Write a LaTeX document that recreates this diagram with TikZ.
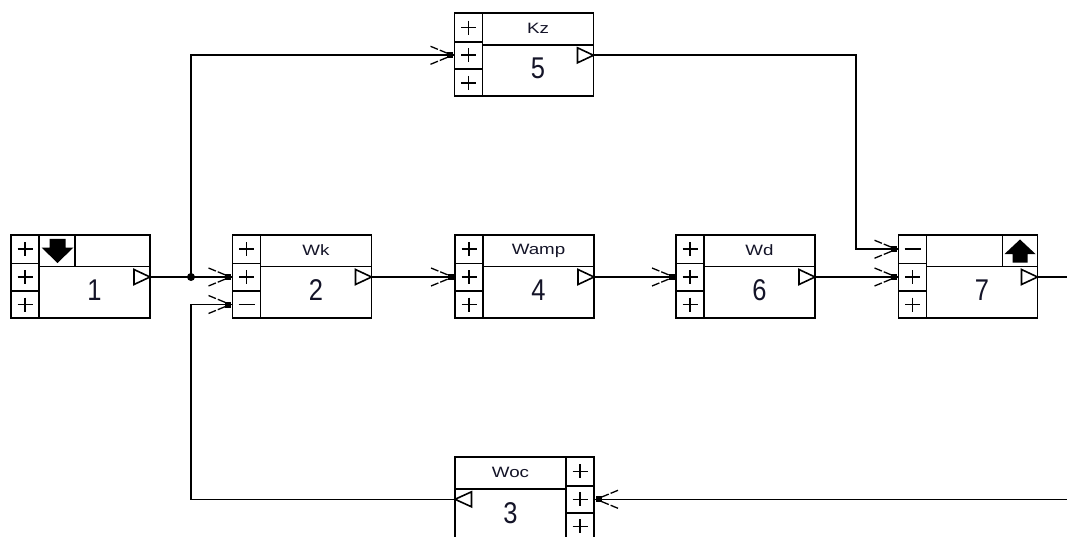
\documentclass[tikz,border=0pt]{standalone}
\usepackage{fontspec}
\setmainfont{Liberation Sans}
\usetikzlibrary{calc}
\definecolor{txt}{RGB}{20,20,40}
\tikzset{
  ln/.style={line width=1.6pt, draw=black},
  blockbox/.style={draw=black, line width=1.7pt, fill=white, minimum width=139pt,
    minimum height=83pt, inner sep=0pt, outer sep=0pt, anchor=north west},
  numtext/.style={font=\fontsize{30}{30}\selectfont, text=txt, inner sep=0pt},
  lbltext/.style={font=\fontsize{15}{15}\selectfont, text=txt, inner sep=0pt},
  conn/.style={line width=1.6pt, draw=black},
  barb/.style={line width=1.3pt, draw=black, dash pattern=on 8pt off 2pt},
}
\newcommand\pls[2]{\draw[ln] (#1-7.5,#2)--(#1+7.5,#2) (#1,#2-7)--(#1,#2+7);}
\newcommand\mns[2]{\draw[ln] (#1-8,#2)--(#1+8,#2);}
% id, x, y, label, number, sign1, sign2, sign3
\newcommand\lblock[8]{%
  \begin{scope}[shift={(#2,#3)}]
    \node[blockbox] (#1) at (0,0) {};
    \draw[ln] (28,0)--(28,83) (0,28.5)--(28,28.5) (0,56)--(28,56) (28,31.5)--(139,31.5);
    #6{14}{14.25}#7{14}{42}#8{14}{69.5}
    \draw[ln, fill=white] (139,42)--(123,34.5)--(123,49.5)--cycle;
    \node[lbltext] (#1-l) at (83.5,15.5) {\scalebox{1.25}[1]{#4}};
    \node[numtext] (#1-n) at (83.5,55.5) {\scalebox{0.85}[1]{#5}};
    \coordinate (#1-i1) at (0,14.25);
    \coordinate (#1-i2) at (0,42);
    \coordinate (#1-i3) at (0,69.5);
    \coordinate (#1-o) at (139,42);
  \end{scope}}
\newcommand\inarr[1]{%
  \begin{scope}[shift={(#1)}]
    \fill (-7.5,-3) rectangle (-1.5,3);
    \draw[barb] (-24,-9)--(-7,-2) (-24,9)--(-7,2);
  \end{scope}}
\newcommand\inarrR[1]{%
  \begin{scope}[shift={(#1)}, xscale=-1]
    \fill (-7.5,-3) rectangle (-1.5,3);
    \draw[barb] (-24,-9)--(-7,-2) (-24,9)--(-7,2);
  \end{scope}}
\begin{document}
\begin{tikzpicture}[x=1pt, y=-1pt]
  \useasboundingbox (0,0) rectangle (1067,537);
  \clip (0,0) rectangle (1067,537);
  \fill[white] (0,0) rectangle (1067,537);

  \lblock{b1}{11}{235}{}{1}{\pls}{\pls}{\pls}
  \lblock{b2}{232.5}{235}{Wk}{2}{\pls}{\pls}{\mns}
  \lblock{b4}{455}{235}{Wamp}{4}{\pls}{\pls}{\pls}
  \lblock{b6}{676}{235}{Wd}{6}{\pls}{\pls}{\pls}
  \lblock{b7}{898.5}{235}{}{7}{\mns}{\pls}{\pls}
  \lblock{b5}{454.5}{13.3}{Kz}{5}{\pls}{\pls}{\pls}

  % block 1 icon cell with down arrow
  \begin{scope}[shift={(11,235)}]
    \draw[ln] (64,0)--(64,31.5);
    \fill (38.5,4)--(54.5,4)--(54.5,12.5)--(62.5,12.5)--(46.5,28)--(30.5,12.5)--(38.5,12.5)--cycle;
  \end{scope}
  % block 7 icon cell with up arrow
  \begin{scope}[shift={(898.5,235)}]
    \draw[ln] (104,0)--(104,31.5);
    \fill (114,27.5)--(129,27.5)--(129,19)--(137,19)--(121.5,4.5)--(106,19)--(114,19)--cycle;
  \end{scope}

  % block 3 (mirrored)
  \begin{scope}[shift={(455,457.3)}]
    \node[blockbox] (b3) at (0,0) {};
    \draw[ln] (111,0)--(111,83) (111,28.4)--(139,28.4) (111,55.4)--(139,55.4) (0,31.7)--(111,31.7);
    \pls{125}{14}\pls{125}{42}\pls{125}{69}
    \draw[ln, fill=white] (0,42)--(16.5,34.5)--(16.5,49.5)--cycle;
    \node[lbltext] (b3-l) at (55.5,15.5) {\scalebox{1.25}[1]{Woc}};
    \node[numtext] (b3-n) at (55.5,55.5) {\scalebox{0.85}[1]{3}};
    \coordinate (b3-o) at (0,42);
    \coordinate (b3-i2) at (139,42);
  \end{scope}

  % routing points
  \coordinate (j) at (191,277);
  \coordinate (c1) at (191,499.3);
  \coordinate (c2) at (856,55.3);
  \coordinate (e1) at (1067,277);
  \coordinate (e2) at (1067,499.3);

  % connectors
  \draw[conn] (b1-o) -- (b2-i2);
  \draw[conn] (j) |- (b5-i2);
  \fill (j) circle (4);
  \draw[conn] (b3-o) -- (c1) |- (b2-i3);
  \draw[conn] (b2-o) -- (b4-i2);
  \draw[conn] (b4-o) -- (b6-i2);
  \draw[conn] (b6-o) -- (b7-i2);
  \draw[conn] (b5-o) -- (c2) |- (b7-i1);
  \draw[conn] (b7-o) -- (e1);
  \draw[conn] (e2) -- (b3-i2);

  % input arrowheads
  \inarr{b2-i2}\inarr{b2-i3}\inarr{b4-i2}\inarr{b6-i2}
  \inarr{b7-i1}\inarr{b7-i2}\inarr{b5-i2}\inarrR{b3-i2}
\end{tikzpicture}
\end{document}
